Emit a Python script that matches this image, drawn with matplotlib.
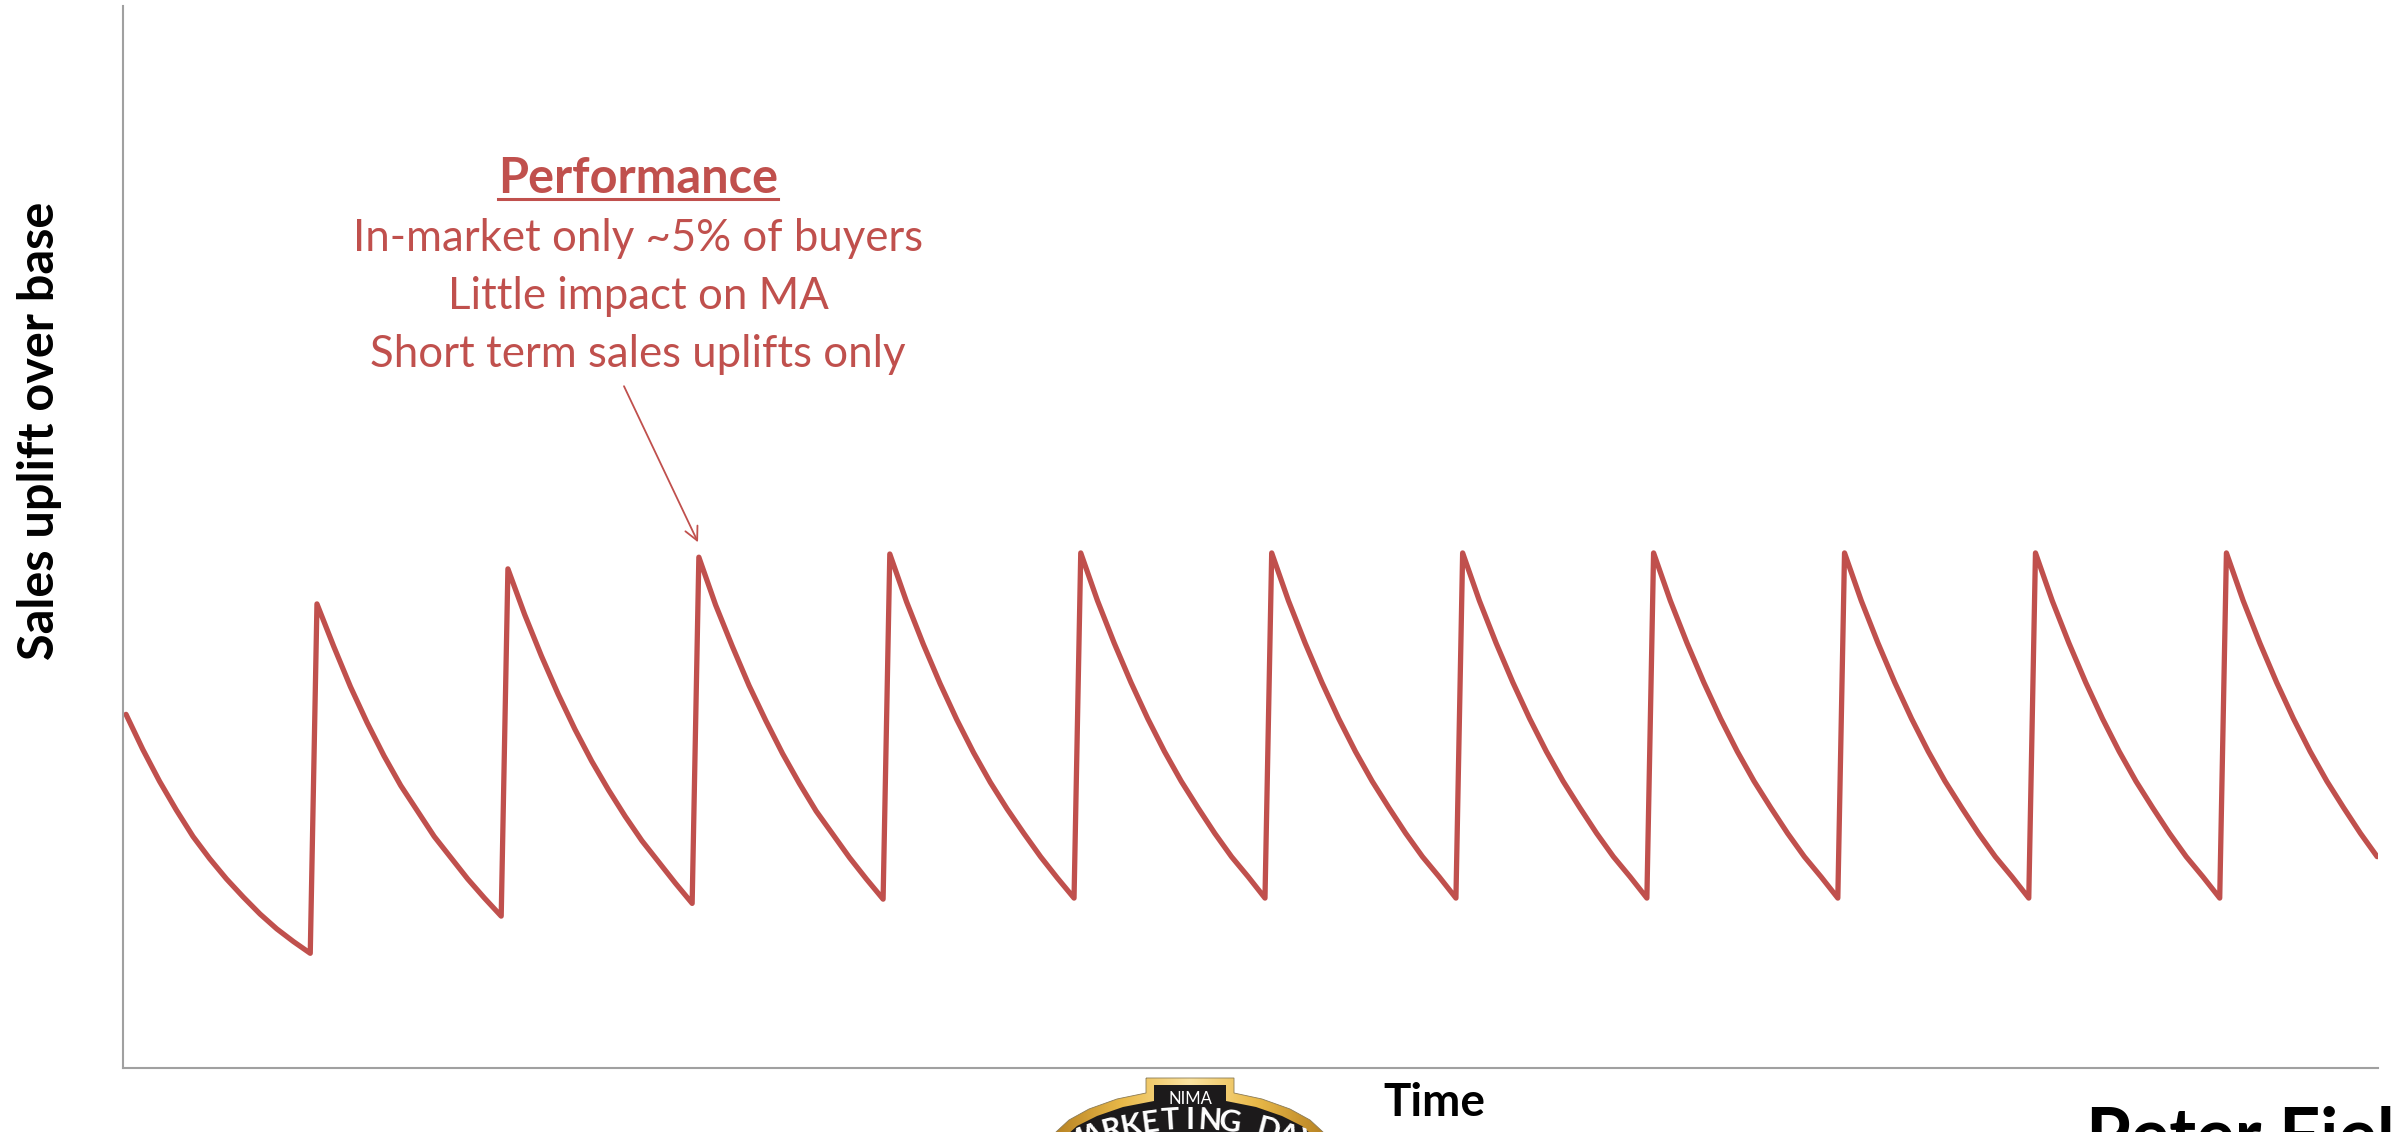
import numpy as np
import matplotlib.pyplot as plt
from matplotlib.colors import LinearSegmentedColormap
from matplotlib.lines import Line2D
from matplotlib.patches import Polygon
from matplotlib.transforms import IdentityTransform

plt.rcParams['font.family'] = ['Lato', 'DejaVu Sans']

W, H = 2394, 1132
RED = '#C0504D'

# sales uplift over base, one value per week
# carry-over from earlier activity, decaying before the first burst
carry_over = [33.3, 30.0, 27.0, 24.3, 21.8, 19.7, 17.8, 16.1, 14.5, 13.1, 11.9, 10.8]

# week each performance burst goes live
burst_week = [11.4, 22.8, 34.2, 45.6, 57.0, 68.4, 79.8, 91.2, 102.6, 114.0, 125.4]

# weekly uplift after each burst (peak first, then decay)
burst_uplift = [
    [43.7, 39.7, 35.9, 32.5, 29.4, 26.6, 24.2, 21.8, 19.8, 17.8, 16.0, 14.3],
    [47.0, 42.7, 38.8, 35.2, 31.9, 28.9, 26.2, 23.7, 21.4, 19.4, 17.4, 15.5],
    [48.1, 43.6, 39.7, 36.0, 32.7, 29.6, 26.8, 24.2, 22.0, 19.8, 17.8, 15.9],
    [48.4, 43.9, 39.9, 36.2, 32.8, 29.7, 26.9, 24.4, 22.1, 19.9, 17.9, 16.0],
    [48.5, 44.0, 40.0, 36.3, 32.9, 29.8, 27.0, 24.5, 22.1, 19.9, 18.0, 16.0],
    [48.5, 44.0, 40.0, 36.3, 32.9, 29.8, 27.0, 24.5, 22.1, 19.9, 18.0, 16.0],
    [48.5, 44.0, 40.0, 36.3, 32.9, 29.8, 27.0, 24.5, 22.1, 19.9, 18.0, 16.0],
    [48.5, 44.0, 40.0, 36.3, 32.9, 29.8, 27.0, 24.5, 22.1, 19.9, 18.0, 16.0],
    [48.5, 44.0, 40.0, 36.3, 32.9, 29.8, 27.0, 24.5, 22.1, 19.9, 18.0, 16.0],
    [48.5, 44.0, 40.0, 36.3, 32.9, 29.8, 27.0, 24.5, 22.1, 19.9, 18.0, 16.0],
    [48.5, 44.0, 40.0, 36.3, 32.9, 29.8, 27.0, 24.5, 22.1, 19.9],
]

note_title = 'Performance'
note_lines = ['In-market only ~5% of buyers',
              'Little impact on MA',
              'Short term sales uplifts only']


def fx(px):
    return px / W


def fy(py):
    # pixel rows counted from the top
    return 1 - py / H


weeks = [np.arange(len(carry_over), dtype=float)]
uplift = [np.array(carry_over)]
for start, vals in zip(burst_week, burst_uplift):
    weeks.append(start + np.arange(len(vals)))
    uplift.append(np.array(vals))
weeks = np.concatenate(weeks)
uplift = np.concatenate(uplift)

fig = plt.figure(figsize=(W / 100, H / 100), dpi=100)
ax = fig.add_axes([fx(123), fy(1068), fx(2378) - fx(123), fy(6) - fy(1068)])

ax.plot(weeks, uplift, color=RED, linewidth=3.8,
        solid_joinstyle='round', solid_capstyle='round')

ax.set_xlim(-0.18, 134.45)
ax.set_ylim(0, 100)
ax.set_xticks([])
ax.set_yticks([])
for side in ['top', 'right']:
    ax.spines[side].set_visible(False)
for side in ['left', 'bottom']:
    ax.spines[side].set_color('#a0a0a0')
    ax.spines[side].set_linewidth(1.5)

# arrow from the note down to the third peak
ax.annotate('', xy=(34.15, 49.5), xytext=(29.73, 64.2),
            arrowprops=dict(arrowstyle='->', color=RED, lw=1.3,
                            mutation_scale=24, shrinkA=0, shrinkB=0))

# note text
title = fig.text(fx(638), fy(193), note_title, color=RED, fontsize=35,
                 fontweight='bold', ha='center', va='baseline')
for line, base in zip(note_lines, [251, 309, 367]):
    fig.text(fx(638), fy(base), line, color=RED, fontsize=31.5,
             ha='center', va='baseline')

fig.text(fx(40), fy(431), 'Sales uplift over base', fontsize=35,
         fontweight='bold', rotation=90, ha='center', va='center')
fig.text(fx(1434), fy(1116), 'Time', fontsize=33, fontweight='bold',
         ha='center', va='baseline')
fig.text(fx(2086), fy(1160), 'Peter Field', fontsize=52, fontweight='bold',
         ha='left', va='baseline')

# event badge below the time axis
lax = fig.add_axes([fx(1040), 0, fx(1340) - fx(1040), fy(1070)])
lax.set_xlim(1040, 1340)
lax.set_ylim(1132, 1070)
lax.axis('off')

outer = [(1146, 1078), (1234, 1078), (1234, 1093), (1262, 1099), (1290, 1109),
         (1310, 1120), (1323, 1132), (1323, 1140), (1056, 1140), (1056, 1132),
         (1069, 1120), (1089, 1109), (1117, 1099), (1146, 1093)]
inner = [(1154, 1085), (1226, 1085), (1226, 1101), (1256, 1107), (1282, 1116),
         (1302, 1126), (1312, 1135), (1312, 1140), (1067, 1140), (1067, 1135),
         (1077, 1126), (1097, 1116), (1123, 1107), (1154, 1101)]

gold_poly = Polygon(outer, closed=True, facecolor='none', edgecolor='#8a7a55',
                    lw=0.6, zorder=2)
lax.add_patch(gold_poly)
gx = np.linspace(-1, 1, 200)
gold = np.abs(gx)[None, :] * np.ones((40, 1))
gold_cmap = LinearSegmentedColormap.from_list('gold', ['#fbe3a0', '#e9b949', '#b98424'])
img = lax.imshow(gold, cmap=gold_cmap, extent=(1056, 1323, 1140, 1076),
                 aspect='auto', zorder=1)
img.set_clip_path(gold_poly)
lax.add_patch(Polygon(inner, closed=True, facecolor='#1c1a1b', edgecolor='none', zorder=2))
lax.text(1190, 1104, 'NIMA', color='white', fontsize=12, ha='center',
         va='baseline', zorder=3)

word = 'MARKETING DAY'
cx, cy, r = 1190, 1430, 324
angles = np.linspace(-22, 22, len(word))
for ch, a in zip(word, angles):
    t = np.deg2rad(a)
    lax.text(cx + r * np.sin(t), cy - r * np.cos(t), ch, color='white',
             fontsize=22, fontweight='bold', ha='center', va='top',
             rotation=-a, rotation_mode='anchor', zorder=3)

# underline under the note title
fig.canvas.draw()
bb = title.get_window_extent()
base_px = fy(193) * H - 6
fig.add_artist(Line2D([bb.x0, bb.x1], [base_px, base_px], color=RED,
                      linewidth=2.2, transform=IdentityTransform()))

fig.savefig('out.png', dpi=100)
